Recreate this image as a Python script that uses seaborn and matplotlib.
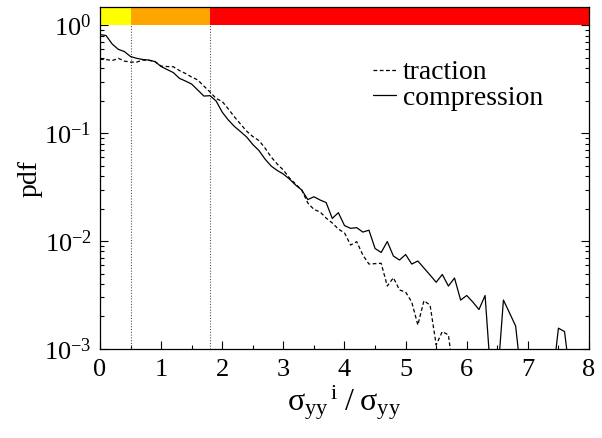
import numpy as np
import pandas as pd
import matplotlib
matplotlib.use("Agg")
import matplotlib.pyplot as plt
from matplotlib.ticker import FixedLocator, FuncFormatter, LogLocator, NullFormatter
import seaborn as sns

# Histogram bin positions (normalised stress) and pdf values
traction_x = [0.0, 0.1, 0.2, 0.3, 0.4, 0.5, 0.6, 0.7, 0.8, 0.9,
              1.0, 1.1, 1.2, 1.3, 1.4, 1.5, 1.6, 1.7, 1.8, 1.9,
              2.0, 2.1, 2.2, 2.3, 2.4, 2.5, 2.6, 2.7, 2.8, 2.9,
              3.0, 3.1, 3.2, 3.3, 3.4, 3.5, 3.6, 3.7, 3.8, 3.9,
              4.0, 4.1, 4.2, 4.3, 4.4, 4.5, 4.6, 4.7, 4.8, 4.9,
              5.0, 5.1, 5.2, 5.3, 5.4, 5.5, 5.6, 5.7, 5.8]
traction_pdf = [0.481, 0.480, 0.469, 0.492, 0.464, 0.454, 0.454, 0.474, 0.472, 0.459,
                0.417, 0.413, 0.411, 0.379, 0.356, 0.330, 0.310, 0.272, 0.240, 0.209,
                0.196, 0.167, 0.141, 0.121, 0.104, 0.0928, 0.0853, 0.0726, 0.060, 0.0516,
                0.0454, 0.0383, 0.0337, 0.0297, 0.0225, 0.0196, 0.0186, 0.0163, 0.0147, 0.0129,
                0.0119, 0.00918, 0.00986, 0.00742, 0.00612, 0.00617, 0.00622, 0.00383, 0.00457, 0.00352,
                0.00337, 0.00272, 0.00167, 0.0028, 0.00255, 0.00109, 0.00145, 0.00135, 0.0005]

compression_x = [0.0, 0.1, 0.2, 0.3, 0.4, 0.5, 0.6, 0.7, 0.8, 0.9,
                 1.0, 1.1, 1.2, 1.3, 1.4, 1.5, 1.6, 1.7, 1.8, 1.9,
                 2.0, 2.1, 2.2, 2.3, 2.4, 2.5, 2.6, 2.7, 2.8, 2.9,
                 3.0, 3.1, 3.2, 3.3, 3.4, 3.5, 3.6, 3.7, 3.8, 3.9,
                 4.0, 4.1, 4.2, 4.3, 4.4, 4.5, 4.6, 4.7, 4.8, 4.9,
                 5.0, 5.1, 5.2, 5.3, 5.4, 5.5, 5.6, 5.7, 5.8, 5.9,
                 6.0, 6.1, 6.2, 6.3, 6.4, 6.5, 6.6, 6.7, 6.8, 6.9,
                 7.0, 7.1, 7.2, 7.3, 7.4, 7.5, 7.6, 7.7]
compression_pdf = [0.817, 0.80, 0.667, 0.596, 0.568, 0.511, 0.492, 0.480, 0.474, 0.459,
                   0.413, 0.387, 0.363, 0.321, 0.303, 0.284, 0.250, 0.220, 0.222, 0.198,
                   0.156, 0.132, 0.115, 0.103, 0.0918, 0.0783, 0.0689, 0.0574, 0.0495, 0.045,
                   0.0417, 0.0375, 0.033, 0.0297, 0.0242, 0.0257, 0.024, 0.0227, 0.0162, 0.0183,
                   0.0139, 0.0131, 0.0133, 0.0121, 0.0126, 0.00853, 0.00783, 0.00989, 0.00726, 0.00667,
                   0.0075, 0.00612, 0.00653, 0.00562, 0.00484, 0.00415, 0.0049, 0.00383, 0.00454, 0.00284,
                   0.00313, 0.00272, 0.00232, 0.00313, 0.0005, 0.0005, 0.00284, 0.00216, 0.00163, 0.0005,
                   0.0005, 0.0005, 0.0005, 0.0005, 0.0005, 0.00156, 0.00145, 0.0005]

# Stress regimes marked along the top of the plot
regime_edges = [0.0, 0.5, 1.8, 8.0]
regime_colors = ["#ffff00", "#ffa500", "#ff0000"]

x_ticks = [0, 1, 2, 3, 4, 5, 6, 7, 8]
y_ticks = [1e-3, 1e-2, 1e-1, 1e0]
y_tick_labels = [r"$\mathrm{10^{-3}}$", r"$\mathrm{10^{-2}}$", r"$\mathrm{10^{-1}}$", r"$\mathrm{10^{0}}$"]

sns.set_style("ticks")
plt.rcParams["font.family"] = ["Liberation Serif", "DejaVu Serif"]
plt.rcParams["mathtext.fontset"] = "custom"
plt.rcParams["mathtext.rm"] = "Liberation Serif"
plt.rcParams["mathtext.it"] = "Liberation Serif:italic"
plt.rcParams["mathtext.bf"] = "Liberation Serif:bold"
for key in ["text.color", "axes.labelcolor", "xtick.color", "ytick.color", "axes.edgecolor"]:
    plt.rcParams[key] = "black"

df = pd.concat([
    pd.DataFrame({"x": traction_x, "pdf": traction_pdf, "kind": "traction"}),
    pd.DataFrame({"x": compression_x, "pdf": compression_pdf, "kind": "compression"}),
], ignore_index=True)

fig = plt.figure(figsize=(6.02, 4.38), dpi=100)
ax = fig.add_axes([0.1661, 0.2032, 0.8123, 0.7808])
ax.set_yscale("log")

y_top = 1.47
sns.lineplot(data=df, x="x", y="pdf", style="kind",
             style_order=["traction", "compression"],
             dashes={"traction": (3, 2), "compression": ""},
             color="black", linewidth=0.9, ax=ax, legend=True)

# coloured regime bar above pdf = 1
for (x0, x1), c in zip(zip(regime_edges[:-1], regime_edges[1:]), regime_colors):
    ax.fill_between([x0, x1], 1.0, y_top, color=c, linewidth=0, zorder=3)
for xe in regime_edges[1:-1]:
    ax.plot([xe, xe], [1e-3, 1.0], color="#555555", linestyle=(0, (1, 1.5)),
            linewidth=0.8, zorder=1)

ax.set_xlim(0, 8)
ax.set_ylim(1e-3, y_top)

ax.xaxis.set_major_locator(FixedLocator(x_ticks))
ax.xaxis.set_minor_locator(FixedLocator([v + 0.5 for v in x_ticks[:-1]]))
ax.yaxis.set_major_locator(FixedLocator(y_ticks))
ax.yaxis.set_major_formatter(FuncFormatter(
    lambda v, p: y_tick_labels[y_ticks.index(v)] if v in y_ticks else ""))
ax.yaxis.set_minor_locator(LogLocator(base=10, subs=np.arange(2, 10), numticks=20))
ax.yaxis.set_minor_formatter(NullFormatter())

ax.tick_params(axis="both", which="both", direction="in", top=False, right=True,
               labelsize=19, width=0.8, color="black", labelcolor="black")
ax.tick_params(axis="both", which="major", length=6)
ax.tick_params(axis="both", which="minor", length=3)
ax.tick_params(axis="x", pad=7)
ax.tick_params(axis="y", pad=6)

for s in ax.spines.values():
    s.set_color("black")
    s.set_linewidth(0.9)
    s.set_zorder(4)

ax.set_ylabel("pdf", fontsize=20, labelpad=1)
ax.set_xlabel(r"$\mathrm{\sigma_{yy}{}^{\,i}\;/\;\sigma_{yy}}$", fontsize=23, labelpad=2)

handles, labels = ax.get_legend_handles_labels()
leg = ax.legend(handles, labels, loc="upper right", bbox_to_anchor=(0.907, 0.845),
                frameon=False, fontsize=20, handlelength=0.85, handletextpad=0.25,
                labelspacing=0.0, borderaxespad=0, borderpad=0)
for h in leg.get_lines():
    h.set_linewidth(0.9)

fig.savefig("out.png", dpi=100)
